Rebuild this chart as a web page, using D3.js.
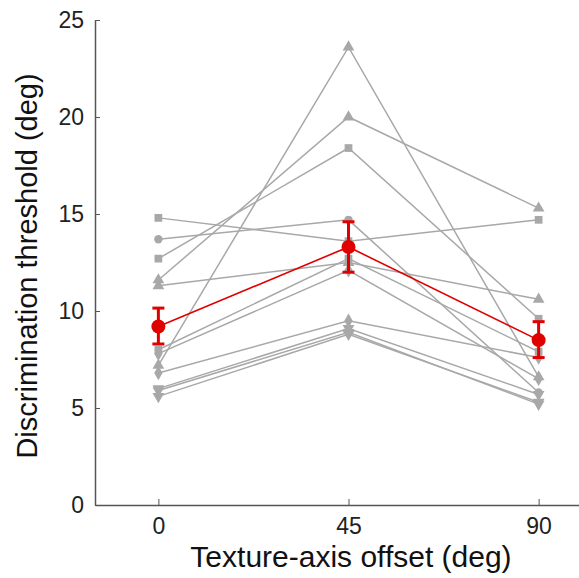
<!DOCTYPE html>
<html>
<head>
<meta charset="utf-8">
<script src="https://cdn.jsdelivr.net/npm/d3@7"></script>
<style>
  body { margin: 0; background: #fff; }
  text { font-family: "Liberation Sans", Arial, sans-serif; }
</style>
</head>
<body>
<svg width="579" height="578"></svg>
<script>
// offsets (deg)
var offsets = [0, 45, 90]
var xTicks = [0, 45, 90]
var yTicks = [0, 5, 10, 15, 20, 25]

// one row per observer: threshold at 0, 45, 90 deg
var subjects = [
    { shape: 'square',   values: [14.8, 13.6, 14.7] },
    { shape: 'circle',   values: [13.7, 14.7, 5.8] },
    { shape: 'square',   values: [12.7, 18.4, 9.6] },
    { shape: 'triangle', values: [11.6, 20.0, 15.3] },
    { shape: 'triangle', values: [11.3, 12.5, 10.6] },
    { shape: 'square',   values: [8.0, 12.7, 7.9] },
    { shape: 'diamond',  values: [7.8, 12.1, 6.5] },
    { shape: 'triangle', values: [7.2, 23.6, 6.6] },
    { shape: 'diamond',  values: [6.8, 9.5, 7.6] },
    { shape: 'down',     values: [6.0, 9.1, 5.7] },
    { shape: 'down',     values: [5.9, 8.9, 5.2] },
    { shape: 'down',     values: [5.6, 8.8, 5.3] }
]

// group mean and error
var meanValues = [9.2, 13.3, 8.5]
var errLow = [8.3, 12.0, 7.6]
var errHigh = [10.15, 14.6, 9.45]

var svg = d3.select('svg')

var x = d3.scaleLinear()
    .domain([-15, 105])
    .range([95, 602])

var y = d3.scaleLinear()
    .domain([0, 25])
    .range([505, 20])

var axisColor = '#555'

// axes
var xAxis = svg.append('g')
    .attr('transform', 'translate(0,505)')
    .call(d3.axisBottom(x).tickValues(xTicks).tickSizeInner(-6).tickSizeOuter(0).tickPadding(13))
xAxis.select('.domain').attr('stroke', axisColor).attr('stroke-width', 1.5)
xAxis.selectAll('.tick line').attr('stroke', axisColor)
xAxis.selectAll('.tick text')
    .style('font-size', '23px')
    .attr('fill', '#222')

var yAxis = svg.append('g')
    .attr('transform', 'translate(95,0)')
    .call(d3.axisLeft(y).tickValues(yTicks).tickSizeInner(-5).tickSizeOuter(0).tickPadding(11))
yAxis.select('.domain').attr('stroke', axisColor).attr('stroke-width', 1.5)
yAxis.selectAll('.tick line').attr('stroke', axisColor)
yAxis.selectAll('.tick text')
    .style('font-size', '23px')
    .attr('fill', '#222')

// axis titles
svg.append('text')
    .text('Texture-axis offset (deg)')
    .attr('x', 351)
    .attr('y', 567)
    .style('text-anchor', 'middle')
    .style('font-size', '30px')
    .attr('fill', '#111')

svg.append('text')
    .text('Discrimination threshold (deg)')
    .attr('transform', 'translate(37,266) rotate(-90)')
    .style('text-anchor', 'middle')
    .style('font-size', '29px')
    .attr('fill', '#111')

// individual observers
var line = d3.line()
    .x((d, i) => x(offsets[i]))
    .y(d => y(d))

var symbolTypes = {
    square: d3.symbolSquare,
    circle: d3.symbolCircle,
    triangle: d3.symbolTriangle,
    diamond: d3.symbolDiamond,
    down: d3.symbolTriangle
}

var gray = '#a8a8a8'

svg.append('g')
    .selectAll('path')
    .data(subjects)
    .enter()
    .append('path')
    .attr('d', d => line(d.values))
    .attr('fill', 'none')
    .attr('stroke', gray)
    .attr('stroke-width', 1.5)

subjects.forEach(function (s) {
    svg.append('g')
        .selectAll('path')
        .data(s.values)
        .enter()
        .append('path')
        .attr('d', d3.symbol().type(symbolTypes[s.shape]).size(s.shape === 'circle' ? 55 : 60))
        .attr('transform', (d, i) => 'translate(' + x(offsets[i]) + ',' + y(d) + ')' + (s.shape === 'down' ? ' rotate(180)' : ''))
        .attr('fill', gray)
})

// mean
var red = '#e00000'

svg.append('path')
    .attr('d', line(meanValues))
    .attr('fill', 'none')
    .attr('stroke', red)
    .attr('stroke-width', 1.6)

var errG = svg.append('g')
    .selectAll('g')
    .data(meanValues)
    .enter()
    .append('g')

errG.append('line')
    .attr('x1', (d, i) => x(offsets[i]))
    .attr('x2', (d, i) => x(offsets[i]))
    .attr('y1', (d, i) => y(errLow[i]))
    .attr('y2', (d, i) => y(errHigh[i]))
    .attr('stroke', red)
    .attr('stroke-width', 3)

errG.append('line')
    .attr('x1', (d, i) => x(offsets[i]) - 6)
    .attr('x2', (d, i) => x(offsets[i]) + 6)
    .attr('y1', (d, i) => y(errLow[i]))
    .attr('y2', (d, i) => y(errLow[i]))
    .attr('stroke', red)
    .attr('stroke-width', 3)

errG.append('line')
    .attr('x1', (d, i) => x(offsets[i]) - 6)
    .attr('x2', (d, i) => x(offsets[i]) + 6)
    .attr('y1', (d, i) => y(errHigh[i]))
    .attr('y2', (d, i) => y(errHigh[i]))
    .attr('stroke', red)
    .attr('stroke-width', 3)

errG.append('circle')
    .attr('cx', (d, i) => x(offsets[i]))
    .attr('cy', d => y(d))
    .attr('r', 7)
    .attr('fill', red)
</script>
</body>
</html>
